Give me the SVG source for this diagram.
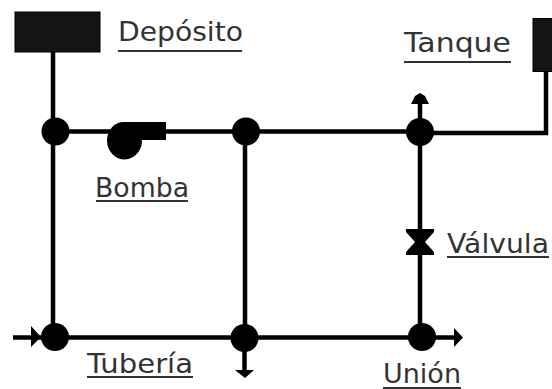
<svg xmlns="http://www.w3.org/2000/svg" width="552" height="389" viewBox="0 0 552 389">
<style>
.p{fill:none;stroke:#000;stroke-width:4.5}
.f{fill:#000}
.b{fill:#141414;stroke:#000;stroke-width:1}
.t{font-family:"DejaVu Sans",sans-serif;font-size:27px;fill:#333}
.u{stroke:#333;stroke-width:2.2}
</style>
<rect width="552" height="389" fill="#fff"/>
<g id="connectors">
<path class="p" d="M53 52V337"/>
<path class="p" d="M55 131.500H420"/>
<path class="p" d="M420 133H546V72"/>
<path class="p" d="M245 131V338"/>
<path class="p" d="M420 100V337"/>
<path class="p" d="M13 337.500H458"/>
<path class="p" d="M244.500 338V372"/>
<path class="f" d="M420 93L425 96L429 104H411L415 96Z"/>
<path class="f" d="M31 326L41 337L31 347Z"/>
<path class="f" d="M235 370H254L245 378Z"/>
<path class="f" d="M454 328L463 337.500L454 347Z"/>
</g>
<g id="deposito"><rect class="b" x="15" y="12" width="85" height="40"/><text class="t" x="118" y="41" textLength="125" lengthAdjust="spacingAndGlyphs">Depósito</text><line class="u" x1="118" y1="51" x2="242" y2="51"/></g>
<g id="tanque"><rect class="b" x="533" y="18.500" width="20" height="53"/><text class="t" x="404" y="52" textLength="107" lengthAdjust="spacingAndGlyphs">Tanque</text><line class="u" x1="404" y1="62" x2="511" y2="62"/></g>
<g id="union-1"><circle class="f" cx="55.500" cy="131.500" r="14"/></g>
<g id="union-2"><circle class="f" cx="246" cy="131.500" r="14"/></g>
<g id="union-3"><circle class="f" cx="420" cy="132" r="14"/></g>
<g id="union-4"><circle class="f" cx="55" cy="337" r="14"/></g>
<g id="union-5"><circle class="f" cx="244.500" cy="338" r="14"/></g>
<g id="union-6"><circle class="f" cx="422" cy="337" r="14"/><text class="t" x="383" y="382.500" style="font-size:26px" textLength="78" lengthAdjust="spacingAndGlyphs">Unión</text><line class="u" x1="383" y1="388" x2="461" y2="388"/></g>
<g id="bomba"><path class="f" d="M124 122H166V140H142A17.500 19 0 1 1 107 141C107 130 114 122 124 122Z"/><text class="t" x="95" y="197" textLength="94" lengthAdjust="spacingAndGlyphs">Bomba</text><line class="u" x1="96" y1="201" x2="188" y2="201"/></g>
<g id="valvula"><path class="f" d="M406 229H434V232L425 242L434 252V255H406V252L415 242L406 232Z"/><text class="t" x="447" y="253" textLength="102" lengthAdjust="spacingAndGlyphs">Válvula</text><line class="u" x1="447" y1="257" x2="549" y2="257"/></g>
<g id="tuberia"><text class="t" x="87" y="373" textLength="106" lengthAdjust="spacingAndGlyphs">Tubería</text><line class="u" x1="87" y1="377" x2="193" y2="377"/></g>
</svg>
